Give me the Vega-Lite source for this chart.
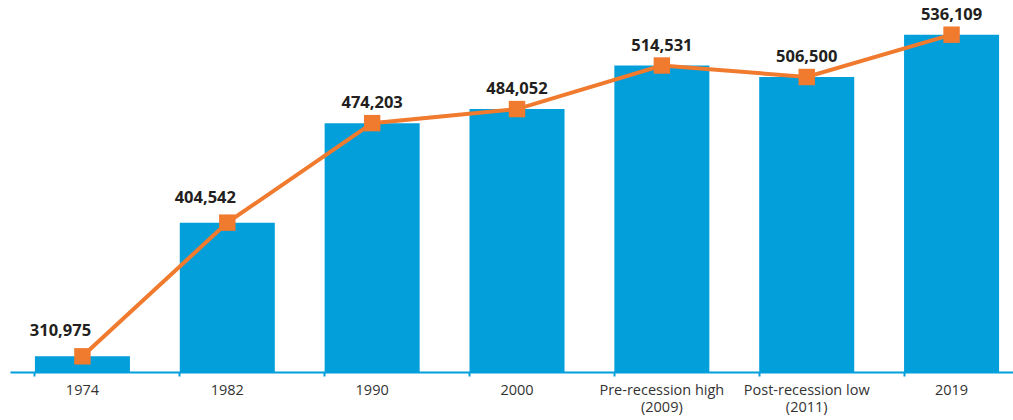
{
  "$schema": "https://vega.github.io/schema/vega-lite/v6.json",
  "width": 1014,
  "height": 350,
  "padding": {"left": 10, "top": 22, "right": 0, "bottom": 48},
  "autosize": {"type": "none"},
  "background": "white",
  "config": {"view": {"stroke": null}, "font": "Open Sans"},
  "data": {
    "values": [
      {"cat": "1974", "value": 310975},
      {"cat": "1982", "value": 404542},
      {"cat": "1990", "value": 474203},
      {"cat": "2000", "value": 484052},
      {"cat": "Pre-recession high|(2009)", "value": 514531},
      {"cat": "Post-recession low|(2011)", "value": 506500},
      {"cat": "2019", "value": 536109}
    ]
  },
  "encoding": {
    "x": {
      "field": "cat",
      "type": "nominal",
      "sort": null,
      "scale": {"paddingInner": 0.344, "paddingOuter": 0.172},
      "axis": {
        "title": null,
        "labelAngle": 0,
        "labelExpr": "split(datum.value, '|')",
        "labelFontSize": 14.5,
        "labelColor": "#333333",
        "labelPadding": 7,
        "labelLineHeight": 17,
        "domainColor": "#039FDB",
        "domainWidth": 2,
        "tickColor": "#039FDB",
        "tickWidth": 2,
        "tickSize": 4,
        "bandPosition": 0
      }
    },
    "y": {
      "field": "value",
      "type": "quantitative",
      "scale": {"domain": [300000, 545000], "nice": false, "zero": false},
      "axis": null
    }
  },
  "layer": [
    {"mark": {"type": "bar", "color": "#039FDB", "clip": true}},
    {"mark": {"type": "line", "color": "#F07A2E", "strokeWidth": 4}},
    {"mark": {"type": "square", "color": "#F07A2E", "opacity": 1, "size": 270, "filled": true}},
    {
      "transform": [{"filter": "datum.cat != '1974' && datum.cat != '1982'"}],
      "mark": {"type": "text", "dy": -20, "fontSize": 16.5, "fontWeight": "bold", "color": "#231F20"},
      "encoding": {"text": {"field": "value", "type": "quantitative", "format": ",d"}}
    },
    {
      "transform": [{"filter": "datum.cat == '1974' || datum.cat == '1982'"}],
      "mark": {"type": "text", "dx": -22, "dy": -25, "fontSize": 16.5, "fontWeight": "bold", "color": "#231F20"},
      "encoding": {"text": {"field": "value", "type": "quantitative", "format": ",d"}}
    }
  ]
}
